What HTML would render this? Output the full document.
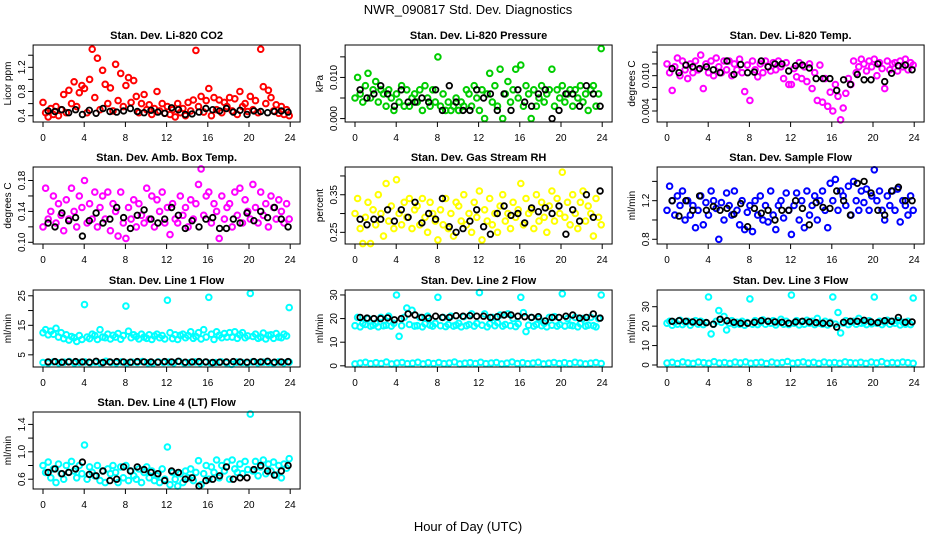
<!DOCTYPE html>
<html><head><meta charset="utf-8"><style>
html,body{margin:0;padding:0;background:#fff;}
svg{display:block;font-family:"Liberation Sans",Arial,sans-serif;}
</style></head><body>
<svg id="chart" width="936" height="540" viewBox="0 0 936 540">
<text x="468" y="14" font-size="13" text-anchor="middle">NWR_090817  Std. Dev. Diagnostics</text>
<text x="468" y="531" font-size="13" text-anchor="middle">Hour of Day (UTC)</text>
</svg>
<script>
const co2 = [.62,.45,.38,.52, .42,.55,.4,.5, .75,.45,.82,.6, .96,.55,.78,.9, .85,.45,1.0,1.5, .7,1.35,.5,1.15, .92,.6,.86,.48, 1.25,.65,1.1,.55, .9,1.03,.62,.98, .72,.45,.6,.75, .5,.58,.42,.52, .8,.48,.6,.44, .55,.42,.5,.38, .6,.45,.52,.4, .62,.48,.66,1.48, .55,.72,.46,.65, .85,.4,.7,.5, .66,.45,.62,.55, .7,.48,.68,.42, .8,.55,.6,.47, .72,.5,.65,.45, 1.5,.88,.6,.82, .7,.48,.58,.44, .55,.42,.5,.4];
const co2Ref = [.48,.47,.5,.45,.5,.42,.49,.44,.52,.47,.46,.48,.52,.47,.45,.49,.46,.44,.53,.5,.42,.43,.46,.52,.5,.48,.52,.46,.49,.42,.48,.47,.45,.47,.48,.46];
const press = [.005,.010,.006,.004, .008,.011,.005,.007, .009,.004,.007,.006, .003,.007,.005,.002, .006,.004,.008,.003, .007,.003,.005,.006, .004,.007,.002,.008, .005,.003,.007,.004, .015,.003,.006,.002, .004,.002,.003,.005, .002,.004,.003,.007, .006,.003,.008,.005, .002,.007,.0,.006, .011,.004,.008,.003, .012,.0,.006,.009, .004,.007,.012,.005, .013,.003,.008,.006, .0,.007,.003,.005, .008,.004,.006,.007, .012,.003,.007,.005, .008,.004,.006,.007, .003,.007,.005,.008, .004,.006,.002,.007, .008,.003,.006,.017];
const pressRef = [.007,.005,.006,.008,.006,.003,.007,.004,.004,.005,.004,.007,.002,.008,.004,.002,.002,.007,.005,.006,.002,.006,.002,.007,.004,.003,.006,.007,.0,.002,.006,.006,.003,.008,.006,.003];
const ltemp = [.012,.0105,.0075,.0115, .013,.010,.0125,.011, .0095,.012,.0105,.0125, .011,.0135,.0078,.012, .0105,.0125,.010,.013, .0115,.0105,.0125,.011, .0125,.010,.012,.011, .0128,.0105,.0073,.0118, .0058,.0125,.011,.0098, .012,.0105,.0125,.0115, .0108,.0122,.011,.0125, .0115,.0095,.0122,.0085, .0085,.0112,.0098,.0122, .0095,.0115,.009,.012, .0078,.0105,.0058,.0118, .0055,.0095,.0048,.0072, .004,.0085,.0065,.0025, .0045,.007,.0095,.0085, .0125,.0105,.0115,.0128, .012,.0108,.0125,.0115, .0128,.010,.0122,.0112, .0078,.0125,.011,.012, .0122,.0108,.0125,.0115, .0128,.011,.0122,.0118];
const ltempRef = [.0112,.0105,.0118,.0115,.0112,.0115,.011,.0105,.0125,.0102,.0119,.0105,.0106,.0125,.0115,.012,.012,.0108,.0117,.0118,.0113,.0095,.0095,.0095,.0075,.0093,.0085,.0102,.0093,.0093,.012,.009,.0104,.0117,.0118,.011];
const box = [.12,.17,.13,.14, .16,.125,.15,.135, .115,.155,.13,.17, .14,.12,.16,.145, .18,.125,.15,.13, .165,.12,.145,.16, .13,.165,.115,.15, .14,.108,.165,.125, .105,.145,.13,.155, .12,.15,.135,.125, .17,.13,.16,.12, .155,.14,.165,.125, .145,.11,.15,.13, .125,.16,.135,.145, .12,.155,.13,.15, .175,.195,.135,.16, .165,.125,.15,.14, .105,.16,.13,.145, .15,.12,.165,.135, .17,.125,.155,.14, .13,.175,.145,.125, .165,.135,.15,.12, .16,.145,.13,.155, .14,.125,.15,.13];
const boxRef = [.125,.12,.138,.128,.132,.108,.128,.138,.125,.13,.145,.132,.118,.135,.142,.13,.125,.13,.145,.135,.118,.128,.12,.13,.132,.118,.118,.13,.125,.138,.128,.14,.132,.145,.13,.12];
const rh = [.3,.34,.26,.22, .29,.33,.22,.31, .27,.35,.3,.24, .38,.28,.32,.26, .39,.3,.27,.33, .29,.34,.26,.31, .32,.27,.34,.29, .25,.33,.3,.28, .23,.31,.27,.34, .26,.3,.24,.33, .32,.28,.35,.27, .3,.25,.33,.29, .36,.23,.31,.28, .34,.27,.3,.25, .32,.35,.28,.3, .26,.33,.29,.31, .38,.27,.34,.3, .31,.26,.35,.28, .33,.29,.25,.32, .36,.28,.34,.3, .41,.29,.33,.27, .35,.3,.26,.33, .36,.28,.32,.3, .24,.34,.29,.27];
const rhRef = [.285,.27,.285,.285,.31,.28,.31,.29,.33,.275,.3,.285,.34,.265,.25,.26,.28,.31,.265,.245,.3,.32,.295,.3,.275,.315,.305,.315,.3,.32,.245,.31,.28,.35,.29,.36];
const flow = [1.1,1.35,1.2,1.05, 1.25,1.15,1.3,1.0, 1.2,1.05,1.15,.92, 1.1,1.25,.95,1.18, 1.05,1.3,1.2,1.12, .8,1.18,1.0,1.28, 1.15,1.05,1.3,1.1, .95,1.2,.9,1.08, 1.15,.88,1.2,1.05, 1.25,1.0,1.15,.98, 1.3,1.05,.9,1.15, 1.2,1.02,1.28,1.1, .85,1.15,1.28,1.0, 1.2,.92,1.3,1.05, 1.15,1.25,1.0,1.2, 1.3,1.1,.92,1.38, 1.2,1.42,1.1,1.3, 1.25,1.15,1.35,1.05, 1.4,1.2,1.1,1.3, 1.18,1.32,1.1,1.25, 1.52,1.2,1.3,1.1, 1.0,1.25,1.15,1.3, 1.1,1.32,.98,1.2, 1.15,1.05,1.25,1.1];
const flowRef = [1.2,1.04,1.2,1.1,1.25,1.1,1.14,1.1,1.12,1.06,1.17,.93,1.12,1.07,1.1,1.0,1.1,1.1,1.2,1.12,.95,1.18,1.13,1.12,1.3,1.2,1.05,1.38,1.4,1.28,1.1,1.05,1.3,1.34,1.2,1.2];
const l1 = [12.5,13.5,11.8,13, 12,14,11,12.5, 10.5,11.8,10,11.2, 10.8,9.5,11.5,10.2, 22,11,10.5,12, 11.5,10.2,13.5,11, 10.8,12,10.4,11.6, 11,12.2,10.3,11.5, 21.5,13,10.8,11.8, 11.2,10.4,12,11, 10.6,11.8,10.2,11.4, 12,10.8,11.5,10.4, 23.5,12.5,10.5,11.8, 10.2,11.6,12,10.8, 11.5,12.8,10.6,11.2, 12.5,10.4,13.5,11, 24.5,12,10.2,12.8, 11.6,10.8,12.2,11, 12.5,11,12.8,10.6, 11.8,12.5,10.8,11.4, 25.8,11.2,12,10.6, 11,12.4,10.4,11.6, 11.8,10.6,12.2,11, 10.8,12,11.4,21];
const l1Low = [2.4,2.2,2.6,2.3,2.5,2.7,2.2,2.4,2.6,2.3,2.5,2.2,2.8,2.4,2.3,2.6,2.2,2.5,2.4,2.7,2.3,2.2,2.6,2.4,2.5,2.3,2.7,2.2,2.4,2.6,2.3,2.5,2.2,2.4,2.6,2.3,1.8,2.5,2.4,2.2,2.6,2.3,2.5,2.4,2.2,2.6,2.3,2.5];
const l1Ref = [2.6,2.7,2.5,2.6,2.7,2.6,2.5,2.8,2.4,2.6,2.7,2.6,2.5,2.7,2.6,2.6,2.5,2.7,2.6,2.8,2.5,2.6,2.7,2.6,2.4,2.5,2.6,2.7,2.6,2.5,2.7,2.6,2.8,2.5,2.6,2.7];
const l2 = [17,20.5,16.5,18, 17.5,20,16.8,17.2, 18,16.5,20.5,17, 17.2,21,16.8,18, 30,12.5,17,20.5, 24.5,17.5,23.5,16.8, 17,20.5,16.5,17.8, 21,17.2,16.8,18, 29,17,20.5,16.6, 17.5,21,16.8,17.2, 18,16.5,20.8,17, 17.5,22,16.8,18, 31,17.2,22,16.5, 17.8,20.5,17,18.2, 21.5,16.8,17.5,22, 17,20,16.6,17.8, 29,22.5,14.5,17.2, 20.5,16.8,17.5,20, 17,18,16.5,20.5, 17.2,20.8,16.8,17.5, 30.5,16.8,20,17.2, 17,20.5,16.5,17.8, 20,16.8,17.2,20.5, 17,16.5,20,30];
const l2Low = [.8,1.2,1.5,.9,1.3,1.0,1.6,.8,1.2,1.4,.9,1.1,1.5,.8,1.3,1.0,1.4,.9,1.2,1.6,.8,1.1,1.3,1.0,1.5,.9,1.2,1.4,.8,1.1,1.6,1.0,1.3,.9,1.2,1.5,.8,1.1,1.4,1.0,1.3,.9,1.5,1.2,.8,1.1,1.4,1.0];
const l2Ref = [20.5,20.2,20,20,20.3,19.5,20,22,21.5,20.5,20.2,21,20.5,20.5,21.2,21,21.2,21,21,20.5,20.8,21.5,21.5,21,20.8,20.5,20.8,19,20.5,20.5,21,21.5,20.2,20.5,22,20.2];
const l3 = [21.5,22.5,20.5,22, 21,23,20.8,22, 22.5,20.5,21.8,22.8, 21,22.5,20.8,21.8, 35,16,21,22.5, 28,22,25,18, 21.5,22.8,20.8,22, 21,22.5,20.5,21.8, 34,21,22.8,20.8, 22,23.2,21,22.5, 21.5,22.8,20.6,22, 23.5,21,22.5,20.8, 36,21.5,22.8,20.6, 22.2,21,23,21.5, 22.5,20.8,24,21.5, 21,22.5,20.6,22, 35,21,27,16.5, 21.5,22.8,20.8,22, 22.5,21,24,21.5, 22,20.8,22.8,21.2, 35,21.5,22.5,20.8, 22,23,21,22.5, 21.5,22.8,20.6,22, 21,22.5,20.8,34.5];
const l3Low = [1.0,1.4,.7,1.6,1.1,.8,1.5,1.2,.9,1.7,1.0,1.3,.8,1.5,1.1,1.6,.9,1.2,1.4,.7,1.5,1.0,1.3,1.8,.9,1.2,1.6,1.0,1.4,.8,1.5,1.1,1.3,.9,1.6,1.2,1.0,1.4,.8,1.5,1.1,1.7,.9,1.3,1.0,1.5,1.2,.9];
const l3Ref = [22.5,22.8,22.5,22.2,22,21.8,21,23.5,22.8,22,21.5,21.5,22,22.8,22.5,22.2,22,21.5,22.2,22.5,22.2,21.8,21.5,21.5,19.5,22,22.5,22.5,23,22.2,21.8,22.8,22.5,24.5,22,22.2];
const l4 = [.8,.7,.85,.62, .75,.55,.82,.68, .6,.8,.7,.86, .72,.62,.8,.68, 1.1,.6,.78,.7, .65,.8,.58,.72, .55,.75,.68,.8, .7,.55,.78,.62, .8,.58,.72,.65, .6,.75,.55,.7, .78,.62,.72,.58, .65,.55,.75,.6, 1.07,.52,.7,.6, .5,.68,.55,.72, .62,.75,.58,.7, .87,.52,.68,.8, .6,.78,.7,.88, .62,.8,.72,.85, .6,.88,.75,.7, .82,.68,.86,.74, 1.55,.72,.86,.65, .78,.88,.68,.82, .72,.85,.66,.8, .62,.82,.76,.9];
const l4Ref = [.7,.75,.68,.7,.75,.85,.67,.65,.72,.58,.6,.78,.72,.78,.74,.7,.68,.58,.72,.7,.6,.62,.5,.58,.6,.65,.78,.6,.62,.62,.74,.8,.72,.66,.72,.8];
const xTicks = [0,4,8,12,16,20,24];

const NS = 'http://www.w3.org/2000/svg';
const svg = document.getElementById('chart');
const colX0 = [43,355,667];
const SX = 10.3;
const rowBox = [[45,122],[167,244],[290,367],[412,489]];

function mk(tag, attrs, parent){
  const e = document.createElementNS(NS, tag);
  for (const k in attrs) e.setAttribute(k, attrs[k]);
  (parent||svg).appendChild(e);
  return e;
}

const panels = [
 {c:0,r:0,title:'Stan. Dev. Li-820 CO2',ylab:'Licor ppm',ylim:[0.296,1.569],ticks:[0.4,0.6,0.8,1.0,1.2,1.4],labels:[[0.4,'0.4'],[0.8,'0.8'],[1.2,'1.2']],col:'#ff0000',series:[[co2,96],[co2Ref,'ref']]},
 {c:1,r:0,title:'Stan. Dev. Li-820 Pressure',ylab:'kPa',ylim:[-0.00083,0.01788],ticks:[0,0.005,0.01,0.015],labels:[[0,'0.000'],[0.01,'0.010']],col:'#00cd00',series:[[press,96],[pressRef,'ref']]},
 {c:2,r:0,title:'Stan. Dev. Li-820 Temp.',ylab:'degrees C',ylim:[0.00213,0.01521],ticks:[0.004,0.006,0.008,0.01,0.012,0.014],labels:[[0.004,'0.004'],[0.01,'0.010']],col:'#ff00ff',series:[[ltemp,96],[ltempRef,'ref']]},
 {c:0,r:1,title:'Stan. Dev. Amb. Box Temp.',ylab:'degrees C',ylim:[0.0978,0.1975],ticks:[0.1,0.12,0.14,0.16,0.18],labels:[[0.1,'0.10'],[0.14,'0.14'],[0.18,'0.18']],col:'#ff00ff',series:[[box,96],[boxRef,'ref']]},
 {c:1,r:1,title:'Stan. Dev. Gas Stream RH',ylab:'percent',ylim:[0.219,0.4238],ticks:[0.25,0.3,0.35,0.4],labels:[[0.25,'0.25'],[0.35,'0.35']],col:'#ffff00',series:[[rh,96],[rhRef,'ref']]},
 {c:2,r:1,title:'Stan. Dev. Sample Flow',ylab:'ml/min',ylim:[0.751,1.549],ticks:[0.8,1.0,1.2,1.4],labels:[[0.8,'0.8'],[1.2,'1.2']],col:'#0000ff',series:[[flow,96],[flowRef,'ref']]},
 {c:0,r:2,title:'Stan. Dev. Line 1 Flow',ylab:'ml/min',ylim:[0.88,26.96],ticks:[5,10,15,20,25],labels:[[5,'5'],[15,'15'],[25,'25']],col:'#00ffff',series:[[l1,96],[l1Low,48],[l1Ref,'ref']]},
 {c:1,r:2,title:'Stan. Dev. Line 2 Flow',ylab:'ml/min',ylim:[-0.5,32.1],ticks:[0,10,20,30],labels:[[0,'0'],[10,'10'],[20,'20'],[30,'30']],col:'#00ffff',series:[[l2,96],[l2Low,48],[l2Ref,'ref']]},
 {c:2,r:2,title:'Stan. Dev. Line 3 Flow',ylab:'ml/min',ylim:[-1.03,38.6],ticks:[0,10,20,30],labels:[[0,'0'],[10,'10'],[20,'20'],[30,'30']],col:'#00ffff',series:[[l3,96],[l3Low,48],[l3Ref,'ref']]},
 {c:0,r:3,title:'Stan. Dev. Line 4 (LT) Flow',ylab:'ml/min',ylim:[0.457,1.581],ticks:[0.6,0.8,1.0,1.2,1.4],labels:[[0.6,'0.6'],[1.0,'1.0'],[1.4,'1.4']],col:'#00ffff',series:[[l4,96],[l4Ref,'ref']]}
];

panels.forEach((p, pi) => {
  const x0 = colX0[p.c];
  const [top, bot] = rowBox[p.r];
  const left = x0 - 0.96*SX, right = x0 + 24.96*SX;
  const xs = h => x0 + h*SX;
  const ys = v => bot - (v - p.ylim[0])/(p.ylim[1]-p.ylim[0])*(bot-top);
  const g = mk('g', {});
  
  
  const t = mk('text', {x:(left+right)/2, y:top-6, 'font-size':11, 'font-weight':'bold', 'text-anchor':'middle'}, g);
  t.textContent = p.title;
  
  
  const yl = mk('text', {x:0, y:0, 'font-size':10, 'text-anchor':'middle', transform:`translate(${left-22},${(top+bot)/2}) rotate(-90)`}, g);
  yl.textContent = p.ylab;
  
  
  p.series.forEach(s => {
    const vals = s[0];
    const isRef = s[1] === 'ref';
    const n = vals.length;
    const sg = mk('g', {fill:'none', stroke: isRef ? '#000' : p.col, 'stroke-width': isRef ? 1.8 : 2}, g);
    
    
    vals.forEach((v, i) => {
      const h = isRef ? 0.5 + i*(23.3/(n-1)) : i*(23.9/(n-1));
      const c = mk('circle', {cx:xs(h).toFixed(1), cy:ys(v).toFixed(1), r:2.8}, sg);
      
      
    });
  });
  const rect = mk('rect', {x:left, y:top, width:right-left, height:bot-top, fill:'none', stroke:'#000', 'stroke-width':1}, g);
  
  
  const xa = mk('g', {}, g);
  
  
  mk('line', {x1:xs(0), x2:xs(24), y1:bot, y2:bot, stroke:'#000'}, xa);
  xTicks.forEach(tk => {
    mk('line', {x1:xs(tk), x2:xs(tk), y1:bot, y2:bot+5, stroke:'#000'}, xa);
    const tl = mk('text', {x:xs(tk), y:bot+19, 'font-size':10, 'text-anchor':'middle'}, xa);
    tl.textContent = tk;
    
    
  });
  const ya = mk('g', {}, g);
  
  
  mk('line', {x1:left, x2:left, y1:ys(p.ticks[0]), y2:ys(p.ticks[p.ticks.length-1]), stroke:'#000'}, ya);
  p.ticks.forEach(tk => mk('line', {x1:left-5, x2:left, y1:ys(tk), y2:ys(tk), stroke:'#000'}, ya));
  p.labels.forEach(([v, s]) => {
    const tl = mk('text', {x:0, y:0, 'font-size':10, 'text-anchor':'middle', transform:`translate(${left-8},${ys(v)}) rotate(-90)`}, ya);
    tl.textContent = s;
    
    
  });
});
</script>
</body></html>
